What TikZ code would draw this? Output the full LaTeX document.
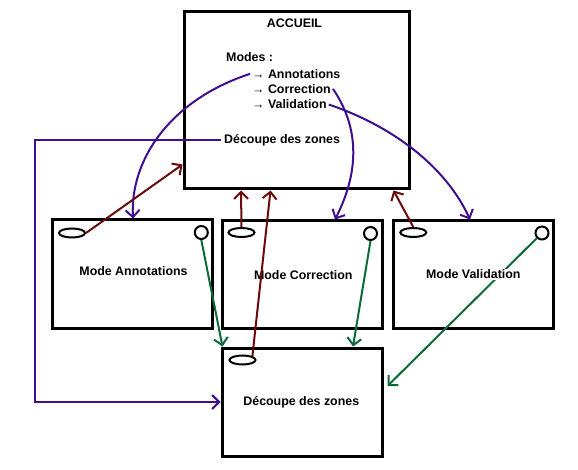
\documentclass[tikz,border=0pt]{standalone}
\usepackage{fontspec}
\setmainfont{Liberation Sans}
\usetikzlibrary{arrows.meta,shapes.geometric,calc}
\definecolor{cpurple}{HTML}{3F0F8F}
\definecolor{cred}{HTML}{6A0A0A}
\definecolor{cgreen}{HTML}{0A6A3A}
\begin{document}
\begin{tikzpicture}[x=1pt,y=-1pt,
  box/.style={draw=black,line width=3pt,rectangle,inner sep=0pt},
  lbl/.style={font=\fontsize{12.4}{14}\selectfont\bfseries,inner sep=0pt,anchor=base},
  lblw/.style={font=\fontsize{12.4}{14}\selectfont\bfseries,inner sep=0pt,anchor=base west},
  oval/.style={draw=black,line width=2pt,ellipse,inner sep=0pt,minimum width=26pt,minimum height=9pt},
  ring/.style={draw=black,line width=2pt,circle,inner sep=0pt,minimum size=13pt},
  conn/.style={line width=2pt,-{Straight Barb[length=7pt,width=14pt,line width=2pt]}},
  pconn/.style={conn,draw=cpurple},
  rconn/.style={conn,draw=cred},
  gconn/.style={conn,draw=cgreen}]
\useasboundingbox[fill=white] (0,0) rectangle (578,470);
% boxes
\node[box,minimum width=225pt,minimum height=177pt] (acc) at (296.5,100.5) {};
\node[box,minimum width=160pt,minimum height=108pt] (ann) at (132,274) {};
\node[box,minimum width=160pt,minimum height=107pt] (cor) at (302,274.5) {};
\node[box,minimum width=160pt,minimum height=107pt] (val) at (473,274.5) {};
\node[box,minimum width=160pt,minimum height=108pt] (dec) at (302,402) {};
% ACCUEIL texts
\node[lbl] (tacc) at (294.5,28) {ACCUEIL};
\node[lblw] (tmod) at (226,62) {Modes :};
\node[lblw,inner xsep=2pt] (tann) at (250,78.3) {→ Annotations};
\node[lblw,inner xsep=2pt] (tcor) at (250,93.3) {→ Correction};
\node[lblw,inner xsep=2pt] (tval) at (250,109) {→ Validation};
\node[lblw,inner xsep=3pt] (tdec) at (221,143.3) {Découpe des zones};
% box labels
\node[lbl] (lann) at (133.5,275.7) {Mode Annotations};
\node[lbl] (lcor) at (303.3,279.3) {Mode Correction};
\node[lbl] (ldec) at (301.3,405.7) {Découpe des zones};
% ovals and rings
\node[oval] (e1) at (72,233) {};
\node[ring] (c1) at (201.3,232.5) {};
\node[oval] (e2) at (241.5,232.5) {};
\node[ring] (c2) at (370.5,233.5) {};
\node[oval] (e3) at (413.3,232.5) {};
\node[ring] (c3) at (542,233) {};
\node[oval] (e4) at (242.5,360) {};
% purple connectors
\draw[pconn] (tann.west) .. controls (170,100) and (130,160) .. ([xshift=1pt]ann.north);
\draw[pconn] (tcor.east) .. controls (368,140) and (350,190) .. ([xshift=33pt]cor.north);
\draw[pconn] (tval.east) .. controls (390,125) and (445,165) .. ([xshift=-3pt]val.north);
\draw[pconn] (tdec.west) -- ++(-186,0) |- (dec.west);
% red connectors
\draw[rconn] (e1.east) -- ([yshift=-64pt]acc.west);
\draw[rconn] (e2.north) -- ([xshift=-55.5pt]acc.south);
\draw[rconn] (e4.north east) -- ([xshift=-26pt]acc.south);
\draw[rconn] (e3.north) -- ([xshift=97pt]acc.south);
% green connectors
\draw[gconn] (c1.south) -- ([xshift=2pt]dec.north west);
\draw[gconn] (c2.south) -- ([xshift=51pt]dec.north);
\draw[gconn] (c3.south west) -- ([xshift=4pt,yshift=16pt]dec.east);
\node[lbl,fill=white,inner sep=1pt] (lval) at (473.3,279) {Mode Validation};
\end{tikzpicture}
\end{document}
